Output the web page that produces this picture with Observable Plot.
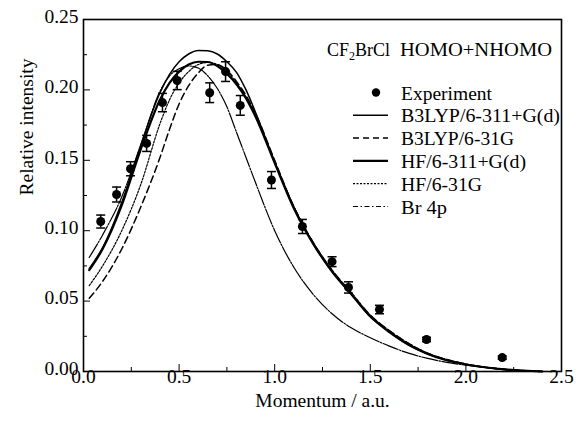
<!DOCTYPE html>
<html><head><meta charset="utf-8">
<script src="https://cdn.jsdelivr.net/npm/d3@7"></script>
<script src="https://cdn.jsdelivr.net/npm/@observablehq/plot@0.6"></script>
<style>
body{margin:0;background:#fff;}
#wrap{position:relative;width:578px;height:423px;}
#legend{position:absolute;left:0;top:0;pointer-events:none;}
</style></head><body><div id="wrap"></div>
<script>
// Experimental data
const expX   = [0.09, 0.173, 0.246, 0.33, 0.413, 0.49, 0.66, 0.743, 0.82, 0.983, 1.145, 1.30, 1.386, 1.548, 1.794, 2.19];
const expY   = [0.1065, 0.1257, 0.144, 0.162, 0.191, 0.2067, 0.198, 0.213, 0.189, 0.136, 0.103, 0.078, 0.0597, 0.044, 0.0227, 0.0099];
const expErr = [0.0046, 0.0053, 0.005, 0.0057, 0.0065, 0.0065, 0.007, 0.007, 0.007, 0.006, 0.005, 0.0035, 0.004, 0.003, 0.0015, 0.0012];

// Theory curves (momentum grid)
const curveX = [0.03,0.1,0.2,0.3,0.4,0.45,0.5,0.55,0.6,0.65,0.7,0.75,0.8,0.85,0.9,1.0,1.1,1.2,1.3,1.4,1.5,1.6,1.7,1.8,1.9,2.0,2.2,2.4];
const b3lyp311 = [0.073,0.088,0.120,0.161,0.198,0.211,0.220,0.2255,0.228,0.2278,0.2255,0.220,0.2125,0.200,0.184,0.149,0.117,0.091,0.071,0.055,0.039,0.028,0.019,0.0125,0.008,0.005,0.0015,0.0];
const b3lyp31  = [0.052,0.064,0.087,0.117,0.152,0.172,0.190,0.203,0.212,0.2175,0.218,0.214,0.206,0.196,0.183,0.150,0.117,0.092,0.072,0.056,0.040,0.029,0.020,0.013,0.0085,0.0053,0.0016,0.0];
const hf311    = [0.072,0.087,0.118,0.158,0.193,0.205,0.213,0.218,0.220,0.2198,0.217,0.2115,0.204,0.194,0.181,0.148,0.116,0.091,0.071,0.055,0.039,0.028,0.019,0.0125,0.008,0.005,0.0015,0.0];
const hf31     = [0.061,0.075,0.100,0.133,0.176,0.193,0.205,0.213,0.218,0.2195,0.218,0.213,0.205,0.195,0.182,0.149,0.117,0.092,0.072,0.056,0.040,0.029,0.020,0.013,0.0085,0.0053,0.0016,0.0];
const br4p     = [0.081,0.097,0.124,0.161,0.199,0.210,0.215,0.217,0.2155,0.210,0.201,0.188,0.170,0.152,0.134,0.100,0.074,0.055,0.041,0.031,0.024,0.018,0.013,0.0093,0.0065,0.0045,0.0015,0.0];

const seriesNames = ["B3LYP/6-311+G(d)","B3LYP/6-31G","HF/6-311+G(d)","HF/6-31G","Br 4p"];
const seriesVals  = [b3lyp311, b3lyp31, hf311, hf31, br4p];
const seriesStyle = [
  {strokeWidth:1.5, dash:null},
  {strokeWidth:1.5, dash:"7,4"},
  {strokeWidth:2.2, dash:null},
  {strokeWidth:1.2, dash:"2,1.5"},
  {strokeWidth:1.2, dash:"16,1.5,1.5,1.5"}
];
const xMajor = [0,0.5,1.0,1.5,2.0,2.5];
const xMinor = [0.25,0.75,1.25,1.75,2.25];
const yMajor = [0,0.05,0.10,0.15,0.20,0.25];
const yMinor = [0.025,0.075,0.125,0.175,0.225];
const xLabel = "Momentum / a.u.";
const yLabel = "Relative intensity";

const exp = expX.map((x,i)=>({x, y:expY[i], e:expErr[i]}));
const curveMarks = seriesVals.map((vals,k)=>Plot.line(curveX.map((x,i)=>({x, y:vals[i]})), {
  x:"x", y:"y", curve:"monotone-x", stroke:"black",
  strokeWidth: seriesStyle[k].strokeWidth, strokeDasharray: seriesStyle[k].dash
}));
const cap = {draw(ctx){ ctx.moveTo(-4.5,0); ctx.lineTo(4.5,0); }};
const blank = () => "";
const serif = "'Liberation Serif','Times New Roman',serif";

const chart = Plot.plot({
  width:578, height:423,
  marginLeft:83, marginRight:17, marginTop:19, marginBottom:52,
  x:{domain:[0,2.5], label:null},
  y:{domain:[0,0.25], label:null},
  style:{fontFamily:serif, fontSize:"19.5px", color:"black", background:"white"},
  marks:[
    Plot.axisX({ticks:xMajor, tickSize:0, tickPadding:-2, tickFormat:d3.format(".1f")}),
    Plot.axisX({ticks:xMajor, tickSize:-7, tickFormat:blank}),
    Plot.axisX({ticks:xMinor, tickSize:-4, tickFormat:blank}),
    Plot.axisY({ticks:yMajor, tickSize:0, tickPadding:5, dy:-3, tickFormat:d3.format(".2f")}),
    Plot.axisY({ticks:yMajor, tickSize:-7, tickFormat:blank}),
    Plot.axisY({ticks:yMinor, tickSize:-4, tickFormat:blank}),
    ...curveMarks,
    Plot.ruleX(exp, {x:"x", y1:d=>d.y-d.e, y2:d=>d.y+d.e, stroke:"black", strokeWidth:1.5}),
    Plot.dot(exp, {x:"x", y:d=>d.y+d.e, symbol:cap, fill:"none", stroke:"black", strokeWidth:1.5}),
    Plot.dot(exp, {x:"x", y:d=>d.y-d.e, symbol:cap, fill:"none", stroke:"black", strokeWidth:1.5}),
    Plot.dot(exp, {x:"x", y:"y", r:4.5, fill:"black", stroke:"none"}),
    Plot.frame({stroke:"black", strokeWidth:1.6}),
    Plot.text([yLabel], {frameAnchor:"left", dx:-57, rotate:-90, lineAnchor:"middle"}),
    Plot.text([xLabel], {frameAnchor:"bottom", dy:29, lineAnchor:"middle"})
  ]
});
const wrap = document.getElementById("wrap");
wrap.appendChild(chart);

// Legend overlay
const svg = d3.select(wrap).append("svg").attr("id","legend").attr("width",578).attr("height",423)
  .style("font-family",serif).style("font-size","19px");
const title = svg.append("text").attr("x",327).attr("y",56).attr("font-size","18px");
title.append("tspan").text("CF");
title.append("tspan").attr("dy",4).attr("font-size","12px").text("2");
title.append("tspan").attr("dy",-4).text("BrCl");
svg.append("text").attr("x",400).attr("y",56).attr("textLength",152).attr("lengthAdjust","spacingAndGlyphs").text("HOMO+NHOMO");

const legY0 = 99.5, legStep = 22.8;
const legWidths = [91, 159, 113, 125, 81, 46];
svg.append("circle").attr("cx",376).attr("cy",legY0-7).attr("r",4.2).attr("fill","black");
svg.append("text").attr("x",401).attr("y",legY0).attr("textLength",legWidths[0]).attr("lengthAdjust","spacingAndGlyphs").text("Experiment");
seriesNames.forEach((name,k)=>{
  const yb = legY0 + legStep*(k+1);
  svg.append("line").attr("x1",353).attr("x2",388).attr("y1",yb-7).attr("y2",yb-7)
    .attr("stroke","black").attr("stroke-width",seriesStyle[k].strokeWidth)
    .attr("stroke-dasharray", k===4 ? "5,2.5,1.5,2.5" : (k===1 ? "6,4" : seriesStyle[k].dash));
  svg.append("text").attr("x",401).attr("y",yb).attr("textLength",legWidths[k+1]).attr("lengthAdjust","spacingAndGlyphs").text(name);
});
</script>
</body></html>
